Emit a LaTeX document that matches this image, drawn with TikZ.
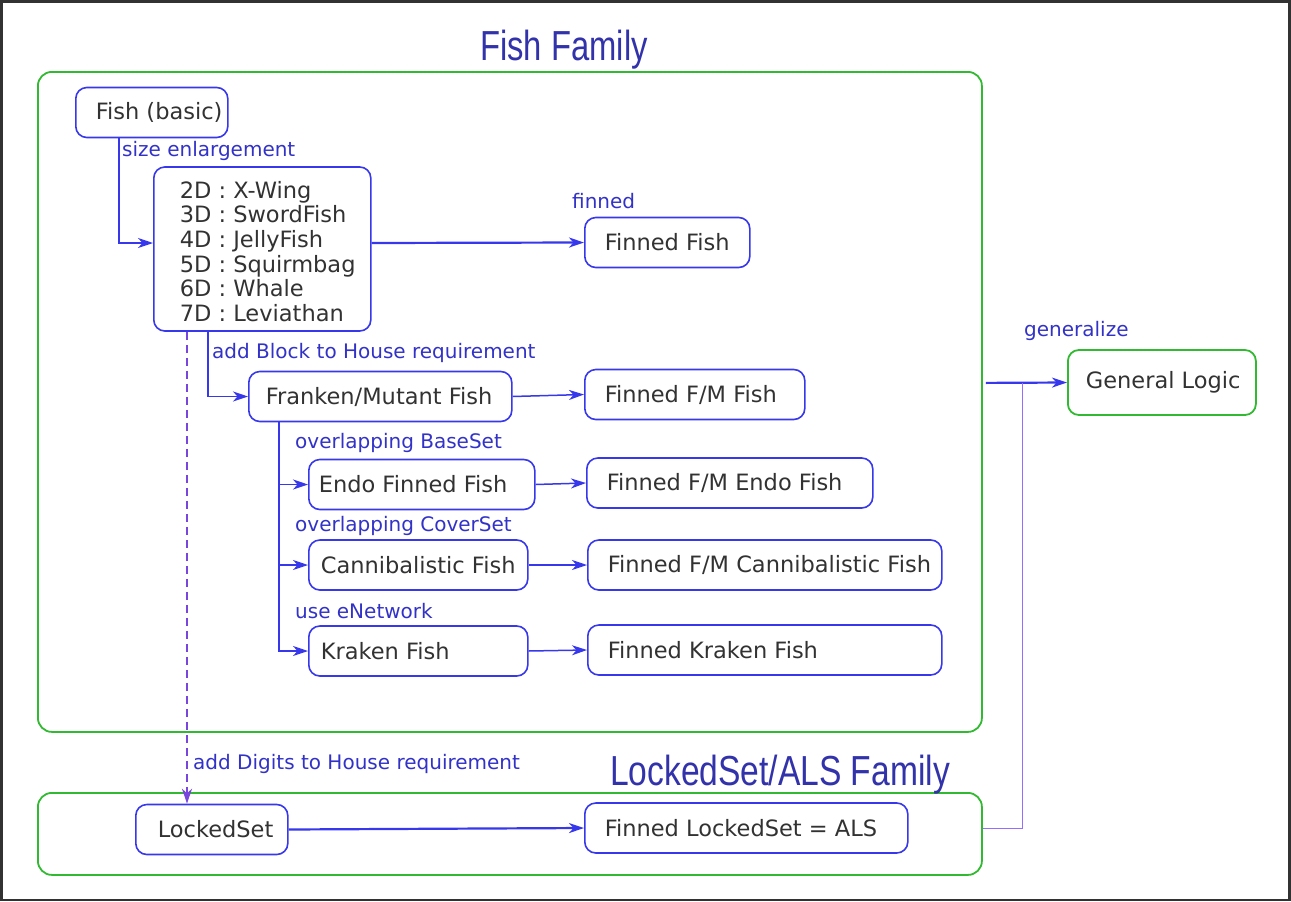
\documentclass[tikz,border=0pt]{standalone}
\usepackage{fontspec}
\setmainfont{DejaVu Sans}
\newfontfamily\titlefont{Liberation Sans}
\usetikzlibrary{arrows.meta}
\definecolor{nblue}{RGB}{55,55,235}
\definecolor{lblue}{RGB}{50,50,200}
\definecolor{tblue}{RGB}{50,50,170}
\definecolor{gframe}{RGB}{50,185,50}
\definecolor{ptext}{RGB}{50,50,50}
\definecolor{dpurple}{RGB}{120,70,220}
\definecolor{lpurple}{RGB}{150,110,255}
\newcommand{\boxtxt}[3]{\makebox[#1pt][l]{\hspace*{#2pt}#3}}
\tikzset{
  bx/.style={draw=nblue, line width=1.6pt, rounded corners=11pt, inner xsep=0pt, inner ysep=0pt,
    minimum height=50pt, anchor=west, text=ptext, font=\fontsize{22.5}{24.6}\selectfont},
  gbx/.style={bx, draw=gframe, line width=1.8pt},
  gfr/.style={draw=gframe, line width=1.8pt, rounded corners=14pt, inner sep=0pt, anchor=north west},
  lbl/.style={text=lblue, font=\fontsize{20}{22}\selectfont, anchor=west, inner sep=0pt},
  ttl/.style={text=tblue, font=\titlefont\fontsize{42}{46}\selectfont, inner sep=0pt},
  arr/.style={draw=nblue, line width=1.5pt, -{Stealth[length=15pt,width=10pt,inset=4.5pt]}},
  thickarr/.style={arr, line width=2.2pt},
}
\begin{document}
\begin{tikzpicture}[x=1pt, y=-1pt]
\useasboundingbox (0,0) rectangle (1291,902);
\draw[ptext, line width=2.2pt] (1.5,1.5) rectangle (1289.5,900);

% frames
\node[gfr, minimum width=944pt, minimum height=660pt] (ff) at (37,71) {};
\node[gfr, minimum width=944pt, minimum height=82pt] (lf) at (37,792) {};
\node[ttl] (t1) at (564,50) {\scalebox{0.78}[1]{Fish Family}};
\node[ttl] (t2) at (780,775) {\scalebox{0.8}[1]{LockedSet/ALS Family}};

% nodes
\node[bx] (fb) at (75,112.5) {\boxtxt{152}{20}{Fish (basic)}};
\node[bx, minimum height=164pt] (dims) at (153,249) {\boxtxt{217}{26}{\raisebox{-11pt}[0pt][0pt]{\begin{tabular}{@{}l@{}}2D : X-Wing\\3D : SwordFish\\4D : JellyFish\\5D : Squirmbag\\6D : Whale\\7D : Leviathan\end{tabular}}}};
\node[bx] (ffin) at (584,242.5) {\boxtxt{165}{20}{Finned Fish}};
\node[bx] (fm) at (248,396.5) {\boxtxt{263}{17}{Franken/Mutant Fish}};
\node[bx] (ffm) at (584,394.5) {\boxtxt{220}{20}{Finned F/M Fish}};
\node[bx] (endo) at (308,484.5) {\boxtxt{226}{10}{Endo Finned Fish}};
\node[bx] (fendo) at (586,483) {\boxtxt{286}{20}{Finned F/M Endo Fish}};
\node[bx] (cann) at (308,565) {\boxtxt{219}{12}{Cannibalistic Fish}};
\node[bx] (fcann) at (587,565) {\boxtxt{354}{20}{Finned F/M Cannibalistic Fish}};
\node[bx] (krak) at (308,651) {\boxtxt{219}{12}{Kraken Fish}};
\node[bx] (fkrak) at (587,650) {\boxtxt{354}{20}{Finned Kraken Fish}};
\node[bx] (ls) at (135,829.5) {\boxtxt{152}{22}{LockedSet}};
\node[bx] (fls) at (584,828) {\boxtxt{323}{20}{Finned LockedSet = ALS}};
\node[gbx, minimum height=65pt] (gl) at (1067,382.5) {\boxtxt{188}{18}{General Logic}};

% labels
\node[lbl] (l1) at (122,151) {size enlargement};
\node[lbl] (l2) at (572,201) {finned};
\node[lbl] (l3) at (212,353) {add Block to House requirement};
\node[lbl] (l4) at (295,443) {overlapping BaseSet};
\node[lbl] (l5) at (295,526) {overlapping CoverSet};
\node[lbl] (l6) at (295,611) {use eNetwork};
\node[lbl] (l7) at (193,764) {add Digits to House requirement};
\node[lbl] (l8) at (1024,331) {generalize};

% connectors
\draw[arr] ([xshift=44pt]fb.south west) |- ([yshift=6pt]dims.west);
\draw[thickarr] ([yshift=6pt]dims.east) -- (ffin.west);
\draw[arr] ([xshift=55pt]dims.south west) |- (fm.west);
\draw[arr] (fm.east) -- (ffm.west);
\draw[arr] ([xshift=31pt]fm.south west) |- (endo.west);
\draw[arr] ([xshift=31pt]fm.south west) |- (cann.west);
\draw[arr] ([xshift=31pt]fm.south west) |- (krak.west);
\draw[arr] (endo.east) -- (fendo.west);
\draw[arr] (cann.east) -- (fcann.west);
\draw[arr] (krak.east) -- (fkrak.west);
\draw[arr, draw=dpurple, line width=1.3pt, dash pattern=on 8pt off 5pt] ([xshift=34pt]dims.south west) -- ([xshift=52pt]ls.north west);
\draw[thickarr] (ls.east) -- (fls.west);
\draw[thickarr] ([yshift=19pt,xshift=3pt]ff.east) -- (gl.west);
\draw[lpurple, line width=1pt] ([yshift=5pt]lf.east) -| ([xshift=-45pt]gl.west);
\end{tikzpicture}
\end{document}
